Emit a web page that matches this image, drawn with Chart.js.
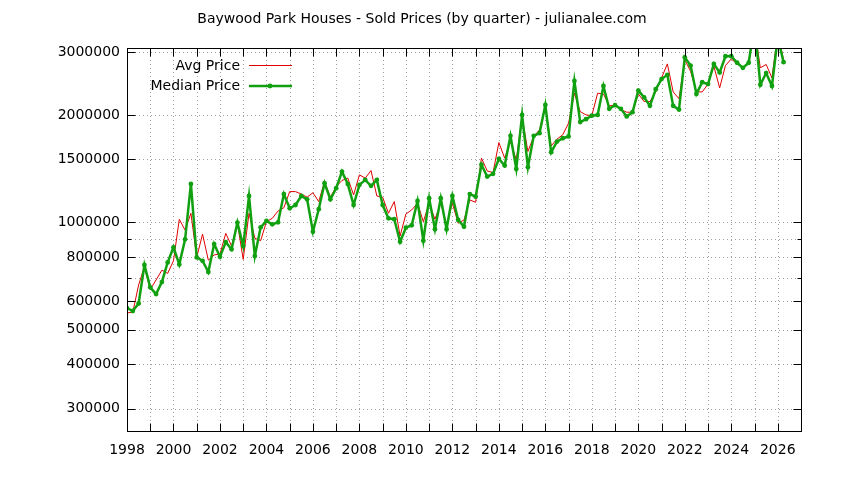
<!DOCTYPE html>
<html>
<head>
<meta charset="utf-8">
<title>Baywood Park Houses - Sold Prices</title>
<script src="https://cdn.jsdelivr.net/npm/chart.js@4.4.1/dist/chart.umd.min.js"></script>
<style>
  html, body { margin: 0; padding: 0; background: #fff; }
  #wrap { width: 844px; height: 480px; }
</style>
</head>
<body>
<div id="wrap"><canvas id="priceChart" width="844" height="480"></canvas></div>
<script>
// ----------------------------------------
// Data (quarterly, starting 1998 Q1)
// ----------------------------------------
const startYear = 1998;

const avgPrice = [
  557000, 560000, 667000, 750000,
  648000, 689000, 734000, 719000,
  780000, 1019000, 951000, 1060000,
  797000, 927000, 783000, 810000,
  815000, 931000, 858000, 994000,
  787000, 1060000, 902000, 888000,
  1004000, 1026000, 1076000, 1099000,
  1219000, 1219000, 1200000, 1176000,
  1210000, 1143000, 1300000, 1176000,
  1259000, 1310000, 1330000, 1193000,
  1358000, 1330000, 1396000, 1185000,
  1176000, 1060000, 1143000, 915000,
  1055000, 1083000, 1130000, 1004000,
  1130000, 1020000, 1130000, 983000,
  1130000, 994000, 1015000, 1155000,
  1138000, 1513000, 1393000, 1378000,
  1673000, 1513000, 1684000, 1496000,
  1970000, 1580000, 1740000, 1816000,
  2110000, 1637000, 1710000, 1760000,
  1897000, 2300000, 2043000, 2000000,
  1990000, 2300000, 2290000, 2120000,
  2130000, 2070000, 2035000, 2035000,
  2290000, 2180000, 2180000, 2320000,
  2540000, 2780000, 2320000, 2220000,
  2855000, 2650000, 2320000, 2320000,
  2440000, 2740000, 2380000, 2750000,
  2870000, 2780000, 2710000, 2820000,
  3500000, 2710000, 2770000, 2540000,
  3400000, 2850000
];

const medianPrice = [
  575000, 564000, 592000, 759000,
  657000, 629000, 680000, 772000,
  851000, 762000, 896000, 1281000,
  797000, 780000, 725000, 869000,
  800000, 880000, 840000, 998000,
  858000, 1185000, 804000, 968000,
  1009000, 987000, 1000000, 1200000,
  1095000, 1118000, 1185000, 1160000,
  941000, 1088000, 1287000, 1160000,
  1246000, 1387000, 1280000, 1118000,
  1273000, 1315000, 1265000, 1315000,
  1118000, 1026000, 1020000, 882000,
  966000, 981000, 1148000, 888000,
  1168000, 956000, 1168000, 956000,
  1185000, 1015000, 972000, 1200000,
  1180000, 1450000, 1343000, 1367000,
  1506000, 1442000, 1747000, 1411000,
  2000000, 1427000, 1747000, 1777000,
  2132000, 1572000, 1684000, 1720000,
  1740000, 2490000, 1910000, 1946000,
  1990000, 2000000, 2410000, 2080000,
  2130000, 2080000, 1980000, 2035000,
  2340000, 2240000, 2120000, 2360000,
  2520000, 2590000, 2120000, 2070000,
  2900000, 2750000, 2290000, 2470000,
  2440000, 2780000, 2630000, 2920000,
  2920000, 2800000, 2710000, 2800000,
  3600000, 2430000, 2620000, 2410000,
  3300000, 2810000
];

const xTicks = [1998, 2000, 2002, 2004, 2006, 2008, 2010, 2012, 2014, 2016, 2018, 2020, 2022, 2024, 2026];
const yTicks = [300000, 400000, 500000, 600000, 800000, 1000000, 1500000, 2000000, 3000000];
const yMinorTicks = [700000, 900000];

const FONT = '"DejaVu Sans", sans-serif';
const RED = '#e00000';
const GREEN = '#10a010';

// x position of each quarter
const toPoints = (arr) => arr.map((v, i) => ({ x: startYear + i / 4, y: v }));

// ----------------------------------------
// gnuplot-like frame: dotted grid, border, inward tics, key, title
// ----------------------------------------
const gnuplotFrame = {
  id: 'gnuplotFrame',
  beforeDatasetsDraw(chart) {
    const { ctx, chartArea: a, scales: { x, y } } = chart;
    ctx.save();
    ctx.strokeStyle = '#a0a0a0';
    ctx.lineWidth = 1;
    ctx.setLineDash([1, 3]);
    ctx.beginPath();
    for (let yr = Math.ceil(x.min) + 1; yr < x.max; yr++) {
      const px = Math.round(x.getPixelForValue(yr)) + 0.5;
      ctx.moveTo(px, a.top);
      ctx.lineTo(px, a.bottom);
    }
    yTicks.concat(yMinorTicks).forEach(v => {
      const py = Math.round(y.getPixelForValue(v)) + 0.5;
      ctx.moveTo(a.left, py);
      ctx.lineTo(a.right, py);
    });
    ctx.stroke();
    ctx.restore();
  },
  afterDatasetsDraw(chart) {
    const { ctx, chartArea: a, scales: { x, y } } = chart;
    const l = Math.round(a.left) + 0.5, r = Math.round(a.right) + 0.5;
    const t = Math.round(a.top) + 0.5, b = Math.round(a.bottom) + 0.5;
    ctx.save();
    ctx.strokeStyle = '#000';
    ctx.lineWidth = 1;
    ctx.beginPath();
    // year tics, bottom and top
    for (let yr = Math.ceil(x.min); yr <= x.max; yr++) {
      const px = Math.round(x.getPixelForValue(yr)) + 0.5;
      ctx.moveTo(px, b); ctx.lineTo(px, b - 8);
      ctx.moveTo(px, t); ctx.lineTo(px, t + 8);
    }
    // price tics, left and right
    yTicks.forEach(v => {
      const py = Math.round(y.getPixelForValue(v)) + 0.5;
      ctx.moveTo(l, py); ctx.lineTo(l + 8, py);
      ctx.moveTo(r, py); ctx.lineTo(r - 8, py);
    });
    yMinorTicks.forEach(v => {
      const py = Math.round(y.getPixelForValue(v)) + 0.5;
      ctx.moveTo(l, py); ctx.lineTo(l + 4, py);
      ctx.moveTo(r, py); ctx.lineTo(r - 4, py);
    });
    ctx.stroke();
    ctx.strokeRect(l, t, r - l, b - t);
    ctx.restore();
  },
  afterDraw(chart) {
    const { ctx } = chart;
    ctx.save();
    ctx.fillStyle = '#000';
    ctx.font = '14px ' + FONT;
    ctx.textBaseline = 'middle';

    // title
    ctx.textAlign = 'center';
    ctx.fillText('Baywood Park Houses - Sold Prices (by quarter) - julianalee.com', chart.width / 2, 19);

    // key
    ctx.textAlign = 'right';
    ctx.fillText('Avg Price', 240, 66);
    ctx.fillText('Median Price', 240, 86);

    ctx.strokeStyle = RED;
    ctx.lineWidth = 1;
    ctx.beginPath();
    ctx.moveTo(249, 65.5); ctx.lineTo(292, 65.5);
    ctx.stroke();

    ctx.strokeStyle = GREEN;
    ctx.lineWidth = 2.5;
    ctx.beginPath();
    ctx.moveTo(249, 86); ctx.lineTo(292, 86);
    ctx.stroke();
    ctx.fillStyle = GREEN;
    ctx.beginPath();
    ctx.arc(270, 86, 2.4, 0, Math.PI * 2);
    ctx.fill();
    ctx.restore();
  }
};

// ----------------------------------------
// Chart
// ----------------------------------------
const ctx = document.getElementById('priceChart');
new Chart(ctx, {
  type: 'line',
  data: {
    datasets: [
      {
        label: 'Avg Price',
        data: toPoints(avgPrice),
        borderColor: RED,
        borderWidth: 1,
        pointRadius: 0,
        tension: 0,
        order: 2
      },
      {
        label: 'Median Price',
        data: toPoints(medianPrice),
        borderColor: GREEN,
        backgroundColor: GREEN,
        borderWidth: 2.5,
        pointRadius: 2.4,
        pointBorderWidth: 0,
        pointBackgroundColor: GREEN,
        tension: 0,
        order: 1
      }
    ]
  },
  options: {
    responsive: false,
    animation: false,
    events: [],
    layout: { padding: { left: 0, top: 48, right: 43, bottom: 0 } },
    plugins: {
      legend: { display: false },
      title: { display: false },
      tooltip: { enabled: false }
    },
    scales: {
      x: {
        type: 'linear',
        min: 1998,
        max: 2027,
        grid: { display: false, drawTicks: false, tickLength: 0 },
        border: { display: false },
        afterBuildTicks: (scale) => { scale.ticks = xTicks.map(v => ({ value: v })); },
        afterFit: (scale) => { scale.height = 49; },
        ticks: {
          autoSkip: false,
          maxRotation: 0,
          padding: 11,
          color: '#000',
          font: { family: FONT, size: 14 },
          callback: (v) => String(v)
        }
      },
      y: {
        type: 'logarithmic',
        min: 260000,
        max: 3080000,
        grid: { display: false, drawTicks: false, tickLength: 0 },
        border: { display: false },
        afterBuildTicks: (scale) => { scale.ticks = yTicks.map(v => ({ value: v })); },
        afterFit: (scale) => { scale.width = 127; },
        ticks: {
          autoSkip: false,
          padding: 7,
          color: '#000',
          font: { family: FONT, size: 14 },
          callback: (v) => String(v)
        }
      }
    }
  },
  plugins: [gnuplotFrame]
});
</script>
</body>
</html>
